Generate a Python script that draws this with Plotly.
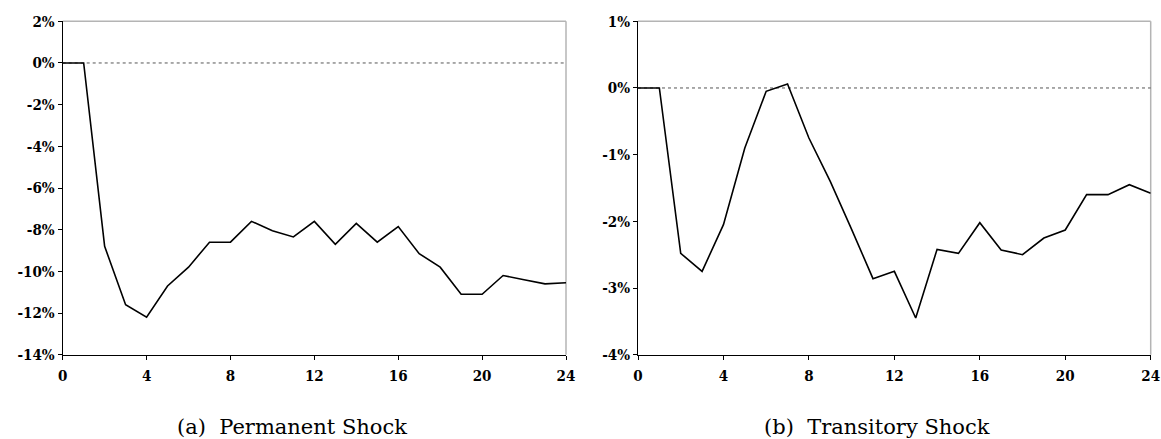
import plotly.graph_objects as go

months = list(range(0, 25))
permanent = [0, 0, -8.8, -11.6, -12.2, -10.7, -9.8, -8.6, -8.6, -7.6, -8.05, -8.35, -7.6,
             -8.7, -7.7, -8.6, -7.85, -9.15, -9.8, -11.1, -11.1, -10.2, -10.4, -10.6, -10.55]
transitory = [0, 0, -2.48, -2.75, -2.05, -0.9, -0.05, 0.06, -0.75, -1.4, -2.12, -2.86, -2.75,
              -3.45, -2.42, -2.48, -2.02, -2.43, -2.5, -2.25, -2.13, -1.6, -1.6, -1.45, -1.58]
x_ticks = [0, 4, 8, 12, 16, 20, 24]
perm_yticks = [2, 0, -2, -4, -6, -8, -10, -12, -14]
trans_yticks = [1, 0, -1, -2, -3, -4]
captions = ["(a)  Permanent Shock", "(b)  Transitory Shock"]

W, H = 1161, 439
SERIF = "DejaVu Serif"
fig = go.Figure()
fig.add_trace(go.Scatter(x=months, y=permanent, mode="lines",
                         line=dict(color="black", width=1.6), xaxis="x", yaxis="y",
                         showlegend=False, hoverinfo="x+y"))
fig.add_trace(go.Scatter(x=months, y=transitory, mode="lines",
                         line=dict(color="black", width=1.6), xaxis="x2", yaxis="y2",
                         showlegend=False, hoverinfo="x+y"))

tickfont = dict(family="DejaVu Serif Condensed, DejaVu Serif", size=15, color="black",
                weight="bold")
ydom = [1 - 354.7 / H, 1 - 21.3 / H]

def xaxis(dom, anchor):
    return dict(domain=dom, anchor=anchor, range=[0, 24], tickvals=x_ticks,
                showgrid=False, zeroline=False, showline=True, linecolor="black", linewidth=1,
                ticks="outside", ticklen=4, tickcolor="black", tickwidth=1,
                ticklabelstandoff=3,
                tickfont=tickfont, fixedrange=True, automargin=False)

def yaxis(anchor, rng, vals):
    return dict(domain=ydom, anchor=anchor, range=rng, tickvals=vals,
                ticktext=[f"{v}%" for v in vals],
                showgrid=False, zeroline=False, showline=True, linecolor="black", linewidth=1,
                ticks="outside", ticklen=4, tickcolor="black", tickwidth=1,
                tickfont=tickfont, fixedrange=True, automargin=False)

fig.update_layout(
    width=W, height=H, margin=dict(l=0, r=0, t=0, b=0, autoexpand=False),
    paper_bgcolor="white", plot_bgcolor="white",
    xaxis=xaxis([62.7 / W, 566 / W], "y"),
    yaxis=yaxis("x", [-14, 2], perm_yticks),
    xaxis2=xaxis([638 / W, 1150.7 / W], "y2"),
    yaxis2=yaxis("x2", [-4, 1], trans_yticks),
)

shapes = []
for xr, yr in [("x domain", "y"), ("x2 domain", "y2")]:
    ydr = yr + " domain"
    shapes.append(dict(type="line", xref=xr, yref=ydr, x0=0, x1=1, y0=1, y1=1,
                       line=dict(color="#b4b4b4", width=1.5), layer="below"))
    shapes.append(dict(type="line", xref=xr, yref=ydr, x0=1, x1=1, y0=0, y1=1,
                       line=dict(color="#b4b4b4", width=1.5), layer="below"))
    shapes.append(dict(type="line", xref=xr, yref=yr, x0=0, x1=1, y0=0, y1=0,
                       line=dict(color="#555555", width=1, dash="dot"), layer="below"))
fig.update_layout(shapes=shapes)

capfont = dict(family=SERIF, size=21, color="black")
fig.add_annotation(text=captions[0], xref="paper", yref="paper", x=292 / W, y=1 - 427 / H,
                   showarrow=False, font=capfont, xanchor="center", yanchor="middle")
fig.add_annotation(text=captions[1], xref="paper", yref="paper", x=877 / W, y=1 - 427 / H,
                   showarrow=False, font=capfont, xanchor="center", yanchor="middle")

fig.write_html("out.html")
